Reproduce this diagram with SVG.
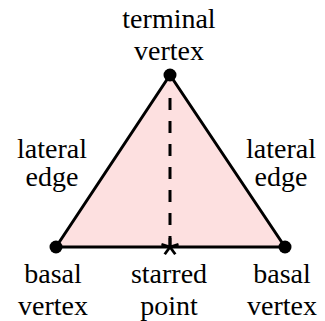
<svg xmlns="http://www.w3.org/2000/svg" width="325" height="321" viewBox="0 0 325 321">
<style>
  .lbl { font-family: 'Liberation Serif', 'DejaVu Serif', serif; font-size: 28px; fill: #000; text-anchor: middle; }
  .edge { fill: none; stroke: #000; stroke-width: 3; stroke-linecap: round; stroke-linejoin: round; }
  .dot { fill: #000; }
  .star { fill: none; stroke: #000; stroke-width: 2.8; }
</style>
<rect width="325" height="321" fill="#fff"/>
<g id="face">
  <polygon points="170,75 56,247 285,247" fill="#fde0e0"/>
</g>
<g id="connectors">
  <line class="edge" x1="56" y1="247" x2="170" y2="75"/>
  <line class="edge" x1="170" y1="75" x2="285" y2="247"/>
  <line class="edge" x1="56" y1="247" x2="285" y2="247"/>
  <line x1="170" y1="98" x2="170" y2="247" stroke="#000" stroke-width="3" stroke-dasharray="12 11"/>
</g>
<g id="terminal-vertex">
  <circle class="dot" cx="170" cy="75" r="6.5"/>
  <text class="lbl" font-family="Liberation Serif, serif" x="169" y="28">terminal</text>
  <text class="lbl" font-family="Liberation Serif, serif" x="169" y="60">vertex</text>
</g>
<g id="basal-vertex-left">
  <circle class="dot" cx="56" cy="247" r="6.5"/>
  <text class="lbl" font-family="Liberation Serif, serif" x="53" y="283">basal</text>
  <text class="lbl" font-family="Liberation Serif, serif" x="53" y="315">vertex</text>
</g>
<g id="basal-vertex-right">
  <circle class="dot" cx="285" cy="247" r="6.5"/>
  <text class="lbl" font-family="Liberation Serif, serif" x="282" y="283">basal</text>
  <text class="lbl" font-family="Liberation Serif, serif" x="282" y="315">vertex</text>
</g>
<g id="starred-point">
  <g class="star" transform="translate(170,247)">
    <line x1="0" y1="0" x2="0" y2="-9"/>
    <line x1="0" y1="0" x2="0" y2="-9" transform="rotate(72)"/>
    <line x1="0" y1="0" x2="0" y2="-9" transform="rotate(144)"/>
    <line x1="0" y1="0" x2="0" y2="-9" transform="rotate(216)"/>
    <line x1="0" y1="0" x2="0" y2="-9" transform="rotate(288)"/>
  </g>
  <text class="lbl" font-family="Liberation Serif, serif" x="169" y="283">starred</text>
  <text class="lbl" font-family="Liberation Serif, serif" x="169" y="315">point</text>
</g>
<g id="lateral-edge-left">
  <text class="lbl" font-family="Liberation Serif, serif" x="52" y="158">lateral</text>
  <text class="lbl" font-family="Liberation Serif, serif" x="52" y="186">edge</text>
</g>
<g id="lateral-edge-right">
  <text class="lbl" font-family="Liberation Serif, serif" x="281" y="158">lateral</text>
  <text class="lbl" font-family="Liberation Serif, serif" x="281" y="186">edge</text>
</g>
</svg>
